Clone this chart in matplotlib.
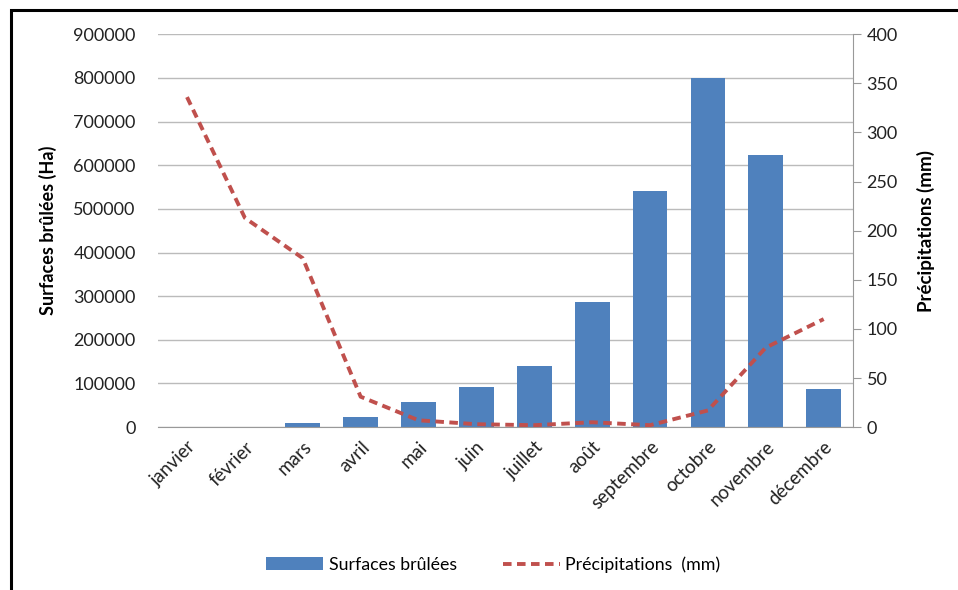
import matplotlib.pyplot as plt
from matplotlib.patches import Rectangle

# Données mensuelles
mois = ["janvier", "février", "mars", "avril", "mai", "juin", "juillet",
        "août", "septembre", "octobre", "novembre", "décembre"]
surfaces = [0, 0, 10000, 23000, 58000, 92000, 140000,
            286000, 540000, 800000, 623000, 87000]
precipitations = [336, 213, 172, 31, 7, 3, 2, 5, 2, 17, 81, 110]

plt.rcParams['font.family'] = ['Lato', 'DejaVu Sans']

fig = plt.figure(figsize=(9.58, 5.90), dpi=100)
ax = fig.add_axes([0.165, 0.276, 0.725, 0.666])

x = range(len(mois))
bars = ax.bar(x, surfaces, width=0.6, color='#4F81BD', label='Surfaces brûlées', zorder=2)
ax.set_ylim(0, 900000)
ax.set_xlim(-0.5, len(mois) - 0.5)
ax.set_yticks(range(0, 900001, 100000))
ax.set_yticklabels([str(v) for v in range(0, 900001, 100000)], fontsize=13, color='#222222')
ax.grid(axis='y', color='#BBBBBB', linewidth=1, zorder=0)
ax.tick_params(axis='y', length=0, pad=16)
ax.set_xticks(list(x))
ax.set_xticklabels(mois, rotation=45, ha='right', rotation_mode='anchor', fontsize=13.5, color='#222222')
ax.tick_params(axis='x', length=0, pad=8)
for s in ['top', 'left', 'right']:
    ax.spines[s].set_visible(False)
ax.spines['bottom'].set_color('#999999')
ax.set_ylabel("Surfaces brûlées (Ha)", fontsize=13, fontweight='bold', labelpad=12)

ax2 = ax.twinx()
line, = ax2.plot(list(x), precipitations, color='#C0504D', linewidth=2.8,
                 linestyle=(0, (2.2, 1.4)), label='Précipitations  (mm)', zorder=3)
ax2.set_ylim(0, 400)
ax2.set_yticks(range(0, 401, 50))
ax2.set_yticklabels([str(v) for v in range(0, 401, 50)], fontsize=13, color='#222222')
ax2.tick_params(axis='y', length=6, color='#999999', pad=4)
for s in ['top', 'left', 'bottom']:
    ax2.spines[s].set_visible(False)
ax2.spines['right'].set_color('#999999')
ax2.set_ylabel("Précipitations (mm)", fontsize=13.5, fontweight='bold', labelpad=14)

fig.legend([bars, line], ['Surfaces brûlées', 'Précipitations  (mm)'],
           loc='center', bbox_to_anchor=(0.515, 0.043), ncol=2, frameon=False,
           fontsize=12.8, handlelength=3.2, columnspacing=2.6, handletextpad=0.3)

# cadre autour du graphique
fig.patches.append(Rectangle((0.011, -0.02), 1.02, 1.003, transform=fig.transFigure,
                             fill=False, edgecolor='black', linewidth=2.2))

fig.savefig("out.png", dpi=100)
